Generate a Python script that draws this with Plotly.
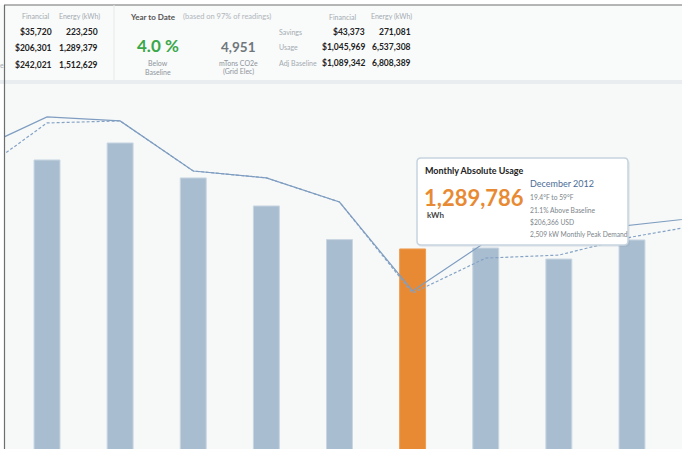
import plotly.graph_objects as go

# Monthly data (kWh)
months = ["Jun 2012", "Jul 2012", "Aug 2012", "Sep 2012", "Oct 2012", "Nov 2012",
          "Dec 2012", "Jan 2013", "Feb 2013", "Mar 2013", "Apr 2013"]
bar_months = months[1:10]
usage_kwh = [1766000, 1857000, 1670000, 1520000, 1340000, 1289786, 1295000, 1236000, 1338000]
baseline_kwh = [1814000, 1996000, 1975000, 1707000, 1670000, 1541000, 1065000, 1327000, 1375000, 1418000, 1461000]
adj_baseline_kwh = [1680000, 1964000, 1975000, 1707000, 1670000, 1541000, 1054000, 1241000, 1257000, 1354000, 1423000]
selected_month = "Dec 2012"

# Header summary values
left_cols = ["Financial", "Energy (kWh)"]
row_labels = ["Savings", "Usage", "Adj Baseline"]
month_financial = ["$35,720", "$206,301", "$242,021"]
month_energy = ["223,250", "1,289,379", "1,512,629"]
ytd_financial = ["$43,373", "$1,045,969", "$1,089,342"]
ytd_energy = ["271,081", "6,537,308", "6,808,389"]

W, H = 682, 449
L, T = 4, 84
FONT = "Lato, Open Sans, sans-serif"


def px(x):
    return (x - L) / (W - L)


def py(y):
    return (H - y) / (H - T)


bar_colors = ["#e88a33" if m == selected_month else "#a9bdd0" for m in bar_months]
line_colors = ["#ef9c52" if m == selected_month else "#c9d6e2" for m in bar_months]

fig = go.Figure()
fig.add_trace(go.Bar(x=bar_months, y=usage_kwh, marker=dict(color=bar_colors, line=dict(color=line_colors, width=1)),
                     hoverinfo="skip"))
fig.add_trace(go.Scatter(x=months, y=adj_baseline_kwh, mode="lines",
                         line=dict(color="#86a3c5", width=1.2, dash="3px,2px"), hoverinfo="skip"))
fig.add_trace(go.Scatter(x=months, y=baseline_kwh, mode="lines",
                         line=dict(color="#7f9dc0", width=1.2), hoverinfo="skip"))

shapes = []
# header panel, top border, shadow band, separator, left border
shapes.append(dict(type="rect", xref="paper", yref="paper", x0=px(0), x1=px(W), y0=py(80), y1=py(5),
                   fillcolor="#f9fafa", line=dict(width=0), layer="below"))
shapes.append(dict(type="rect", xref="paper", yref="paper", x0=px(0), x1=px(W), y0=py(84), y1=py(80),
                   fillcolor="#e9edef", line=dict(width=0)))
shapes.append(dict(type="line", xref="paper", yref="paper", x0=px(4), x1=px(W), y0=py(5), y1=py(5),
                   line=dict(color="#6e6e6e", width=1.2)))
shapes.append(dict(type="line", xref="paper", yref="paper", x0=px(114), x1=px(114), y0=py(80), y1=py(5),
                   line=dict(color="#e6e9eb", width=1)))
shapes.append(dict(type="line", xref="paper", yref="paper", x0=px(4.5), x1=px(4.5), y0=py(H), y1=py(5),
                   line=dict(color="#6e6e6e", width=1.2)))


def rounded(x0, y0, x1, y1, r):
    return (f"M {px(x0 + r)} {py(y0)} L {px(x1 - r)} {py(y0)} Q {px(x1)} {py(y0)} {px(x1)} {py(y0 + r)} "
            f"L {px(x1)} {py(y1 - r)} Q {px(x1)} {py(y1)} {px(x1 - r)} {py(y1)} "
            f"L {px(x0 + r)} {py(y1)} Q {px(x0)} {py(y1)} {px(x0)} {py(y1 - r)} "
            f"L {px(x0)} {py(y0 + r)} Q {px(x0)} {py(y0)} {px(x0 + r)} {py(y0)} Z")


# tooltip box
shapes.append(dict(type="path", xref="paper", yref="paper", path=rounded(418, 160, 630, 247, 4),
                   fillcolor="rgba(120,140,160,0.12)", line=dict(width=0)))
shapes.append(dict(type="path", xref="paper", yref="paper", path=rounded(417, 158, 628, 245, 4),
                   fillcolor="#ffffff", line=dict(color="#c6d3df", width=1.5)))

ann = []


def text(x, y, s, size, color, anchor="left", bold=False, family=FONT):
    ann.append(dict(xref="paper", yref="paper", x=px(x), y=py(y), text=s, showarrow=False,
                    xanchor=anchor, yanchor="middle",
                    font=dict(family=family, size=size, color=color, weight="bold" if bold else "normal")))


# left header block (labels mostly cut off by the frame edge)
text(35, 16.5, left_cols[0], 7, "#a3abb1", "center")
text(79, 16.5, left_cols[1], 7, "#a3abb1", "center")
for i, yy in enumerate([32, 48, 64.5]):
    text(-36, yy, row_labels[i], 7, "#a3abb1")
    text(54, yy, month_financial[i], 8.5, "#222222", "right", True)
    text(100, yy, month_energy[i], 8.5, "#222222", "right", True)

# year to date block
text(128, 17, "Year to Date", 8, "#555555", bold=True)
text(181, 17, "(based on 97% of readings)", 7.5, "#b0b6bb")
text(157.5, 45, "4.0 %", 17, "#3aa84a", "center", True)
text(157.5, 62.5, "Below", 7, "#8d959c", "center")
text(157.5, 72, "Baseline", 7, "#8d959c", "center")
text(238, 47, "4,951", 13.5, "#6f767c", "center", True)
text(238, 62.5, "mTons CO2e", 7, "#8d959c", "center")
text(238, 72, "(Grid Elec)", 7, "#8d959c", "center")

# right header block
text(342, 17, left_cols[0], 7, "#a3abb1", "center")
text(391, 17, left_cols[1], 7, "#a3abb1", "center")
for i, yy in enumerate([32, 47.5, 63]):
    text(277, yy, row_labels[i], 7, "#a3abb1")
    text(367, yy, ytd_financial[i], 8.5, "#222222", "right", True)
    text(413, yy, ytd_energy[i], 8.5, "#222222", "right", True)

# tooltip text
text(423, 170, "Monthly Absolute Usage", 9, "#222222", bold=True)
text(422, 197, f"{usage_kwh[bar_months.index(selected_month)]:,}", 22, "#e88a33", bold=True)
text(425, 215, "kWh", 8, "#444444", bold=True)
text(528, 183, "December 2012", 9, "#4a6c96")
text(528, 197, "19.4°F to 59°F", 6.7, "#7d858b")
text(528, 210, "21.1% Above Baseline", 6.7, "#7d858b")
text(528, 222, "$206,366 USD", 6.7, "#7d858b")
text(528, 234.5, "2,509 kW Monthly Peak Demand", 6.7, "#7d858b")

fig.update_layout(
    width=W, height=H, autosize=False,
    margin=dict(l=L, r=0, t=T, b=0),
    paper_bgcolor="#ffffff", plot_bgcolor="#f7f9f9",
    showlegend=False, bargap=0.645,
    shapes=shapes, annotations=ann,
    xaxis=dict(type="category", categoryorder="array", categoryarray=months,
               range=[0.412, 9.684], showticklabels=False, showgrid=False, zeroline=False, showline=False),
    yaxis=dict(range=[219400, 2172500], showticklabels=False, showgrid=False, zeroline=False, showline=False),
)

fig.write_html("out.html", config={"displayModeBar": False},
               post_script="document.body.style.margin='0';")
